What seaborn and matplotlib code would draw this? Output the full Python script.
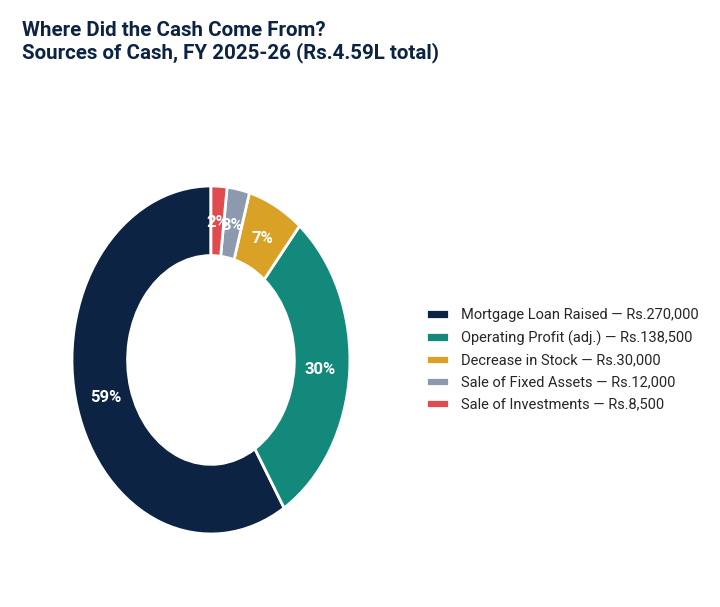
"""Donut chart: sources of cash for FY 2025-26."""

import matplotlib
matplotlib.use('Agg')  # no display
import matplotlib.pyplot as plt
import seaborn as sns

# Data
sources = [
    "Mortgage Loan Raised",
    "Operating Profit (adj.)",
    "Decrease in Stock",
    "Sale of Fixed Assets",
    "Sale of Investments",
]
amounts = [270000, 138500, 30000, 12000, 8500]
slice_colors = ["#0d2344", "#12897a", "#d9a227", "#8d99ae", "#e04b4f"]

title_text = "Where Did the Cash Come From?\nSources of Cash, FY 2025-26 (Rs.4.59L total)"

sns.set_theme(style="white")
plt.rcParams['font.family'] = ['Roboto', 'DejaVu Sans']

palette = sns.color_palette(slice_colors)

fig = plt.figure(figsize=(7.2, 6.07), dpi=100)
fig.patch.set_facecolor("white")

# pie axes placed so the (stretched) ring fills the left half
ax = fig.add_axes([0.1, 0.1203, 0.386, 0.5733])
wedges, _, autotexts = ax.pie(
    amounts,
    colors=palette,
    startangle=90,
    counterclock=True,
    autopct="%.0f%%",
    pctdistance=0.79,
    wedgeprops=dict(width=0.4, edgecolor="white", linewidth=2),
    textprops=dict(color="white", fontsize=12, fontweight="bold"),
)
ax.set_aspect('auto')
ax.set_xlim(-1, 1)
ax.set_ylim(-1, 1)
ax.axis('off')

# Legend with amounts
legend_labels = [f"{s} \u2014 Rs.{a:,}" for s, a in zip(sources, amounts)]
fig.legend(
    wedges, legend_labels,
    loc="center left", bbox_to_anchor=(0.583, 0.407),
    frameon=False, fontsize=10.5,
    handlelength=1.6, handleheight=0.6,
    labelspacing=0.55, handletextpad=0.8,
    borderaxespad=0,
)

fig.text(0.031, 1 - 21 / 607, title_text, ha="left", va="top",
         fontsize=14.8, fontweight="bold", color="#0d2344", linespacing=1.15)

plt.savefig("out.png", dpi=100, facecolor="white")
plt.close()
